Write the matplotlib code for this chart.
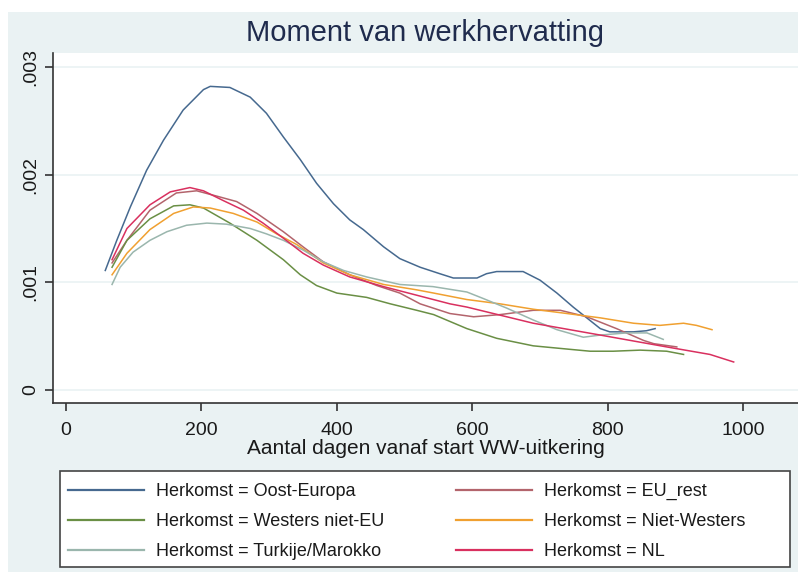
import matplotlib
matplotlib.use("Agg")
import matplotlib.pyplot as plt
from matplotlib.patches import Rectangle

plt.rcParams['font.family'] = ['Liberation Sans', 'DejaVu Sans']

title = "Moment van werkhervatting"
xlabel = "Aantal dagen vanaf start WW-uitkering"
xticks = [0, 200, 400, 600, 800, 1000]
yticks = [0, 0.001, 0.002, 0.003]
ytick_labels = ["0", ".001", ".002", ".003"]

oost_x = [58, 75, 95, 119, 144, 173, 203, 213, 242, 272, 296, 321, 346, 370, 395, 419, 439, 469, 493, 523, 552, 572, 607, 621, 636, 675, 700, 725, 749, 769, 789, 803, 838, 857, 870]
oost_y = [0.00111, 0.00139, 0.00170, 0.00204, 0.00232, 0.00260, 0.00279, 0.00282, 0.00281, 0.00272, 0.00257, 0.00235, 0.00214, 0.00192, 0.00173, 0.00158, 0.00149, 0.00133, 0.00122, 0.00114, 0.00108, 0.00104, 0.00104, 0.00108, 0.00110, 0.00110, 0.00102, 0.00090, 0.00077, 0.00067, 0.00057, 0.00054, 0.00054, 0.00055, 0.00057]

eu_x = [68, 90, 124, 163, 193, 223, 252, 282, 321, 350, 380, 419, 459, 493, 523, 567, 602, 641, 690, 730, 769, 813, 853, 868, 902]
eu_y = [0.00118, 0.00139, 0.00167, 0.00183, 0.00185, 0.00180, 0.00175, 0.00164, 0.00147, 0.00133, 0.00119, 0.00107, 0.00097, 0.00090, 0.00080, 0.00071, 0.00068, 0.00070, 0.00074, 0.00074, 0.00068, 0.00057, 0.00046, 0.00043, 0.00040]

wes_x = [68, 90, 124, 159, 183, 203, 242, 282, 321, 346, 370, 400, 444, 479, 518, 543, 592, 636, 690, 740, 774, 808, 848, 887, 912]
wes_y = [0.00114, 0.00139, 0.00159, 0.00171, 0.00172, 0.00169, 0.00155, 0.00139, 0.00121, 0.00107, 0.00097, 0.00090, 0.00086, 0.00080, 0.00074, 0.00070, 0.00057, 0.00048, 0.00041, 0.00038, 0.00036, 0.00036, 0.00037, 0.00036, 0.00033]

nwes_x = [68, 90, 124, 159, 188, 213, 247, 282, 311, 341, 380, 419, 469, 518, 543, 592, 641, 690, 740, 789, 838, 877, 912, 931, 954]
nwes_y = [0.00107, 0.00127, 0.00149, 0.00164, 0.00170, 0.00169, 0.00164, 0.00156, 0.00145, 0.00135, 0.00118, 0.00107, 0.00098, 0.00093, 0.00090, 0.00084, 0.00080, 0.00075, 0.00071, 0.00067, 0.00062, 0.00060, 0.00062, 0.00060, 0.00056]

tm_x = [68, 80, 99, 124, 149, 178, 208, 237, 272, 296, 321, 350, 380, 410, 444, 493, 542, 592, 616, 651, 690, 725, 764, 789, 828, 858, 882]
tm_y = [0.00098, 0.00114, 0.00128, 0.00139, 0.00147, 0.00153, 0.00155, 0.00154, 0.00150, 0.00145, 0.00139, 0.00130, 0.00119, 0.00111, 0.00105, 0.00098, 0.00096, 0.00091, 0.00085, 0.00076, 0.00065, 0.00056, 0.00049, 0.00051, 0.00053, 0.00053, 0.00047]

nl_x = [68, 90, 124, 154, 183, 203, 232, 262, 291, 321, 350, 380, 419, 469, 518, 567, 592, 690, 789, 887, 951, 986]
nl_y = [0.00121, 0.00150, 0.00172, 0.00184, 0.00188, 0.00185, 0.00176, 0.00167, 0.00155, 0.00141, 0.00127, 0.00116, 0.00105, 0.00096, 0.00088, 0.00080, 0.00077, 0.00062, 0.00051, 0.00040, 0.00033, 0.00026]

series = [
    ("Herkomst = Oost-Europa", oost_x, oost_y, "#46698f"),
    ("Herkomst = EU_rest", eu_x, eu_y, "#b3646c"),
    ("Herkomst = Westers niet-EU", wes_x, wes_y, "#6a8f45"),
    ("Herkomst = Niet-Westers", nwes_x, nwes_y, "#f0a030"),
    ("Herkomst = Turkije/Marokko", tm_x, tm_y, "#9ab6ad"),
    ("Herkomst = NL", nl_x, nl_y, "#d9305f"),
]

W, H = 798, 572
fig = plt.figure(figsize=(W / 100, H / 100), dpi=100, facecolor="white")

# background panel
fig.patches.append(Rectangle((8 / W, 0), (W - 8) / W, (H - 12) / H, transform=fig.transFigure,
                             facecolor="#eaf2f3", edgecolor="none", zorder=-5))

ax = fig.add_axes([53 / W, (H - 403) / H, (W - 53) / W, 350 / H])
ax.set_zorder(2)
ax.set_facecolor("white")
ax.set_xlim(-19.2, 1081)
ax.set_ylim(-0.000121, 0.00313)

lines = {}
for name, xs, ys, c in series:
    ln, = ax.plot(xs, ys, color=c, lw=1.1, label=name)
    lines[name] = ln

ax.set_yticks(yticks)
ax.set_yticklabels(ytick_labels, rotation=90, va="center")
ax.set_xticks(xticks)
ax.set_xticklabels([str(v) for v in xticks])
ax.grid(axis="y", color="#eaf2f3", lw=1.2)
ax.set_axisbelow(True)
for s in ["top", "right"]:
    ax.spines[s].set_visible(False)
for s in ["left", "bottom"]:
    ax.spines[s].set_color("#333333")
    ax.spines[s].set_linewidth(1.2)
ax.tick_params(axis="both", colors="#333333", length=6, width=1.2, labelsize=14,
               labelcolor="#1a1a1a", pad=4)
ax.tick_params(axis="x", pad=8)
ax.set_xlabel(xlabel, fontsize=15, color="#1a1a1a", labelpad=-0.5)

fig.text(425 / W, 1 - 33 / H, title, ha="center", va="center", fontsize=21, color="#1f2b4d")

# legend frame
fig.patches.append(Rectangle((60 / W, (H - 567) / H), 730 / W, 96 / H, transform=fig.transFigure,
                             facecolor="white", edgecolor="#444444", lw=1.2, zorder=1))
order = ["Herkomst = Oost-Europa", "Herkomst = Westers niet-EU", "Herkomst = Turkije/Marokko",
         "Herkomst = EU_rest", "Herkomst = Niet-Westers", "Herkomst = NL"]
leg = fig.legend([lines[n] for n in order], order, loc="upper left",
                 bbox_to_anchor=(68 / W, 1 - 483 / H), bbox_transform=fig.transFigure,
                 ncol=2, frameon=False, fontsize=13, handlelength=4.2, handletextpad=0.65,
                 columnspacing=4.0, labelspacing=0.72, borderpad=0, borderaxespad=0)
leg.set_zorder(3)
for t in leg.get_texts():
    t.set_color("#1a1a1a")
for l in leg.get_lines():
    l.set_linewidth(1.6)

fig.savefig("out.png", dpi=100, facecolor="white")
